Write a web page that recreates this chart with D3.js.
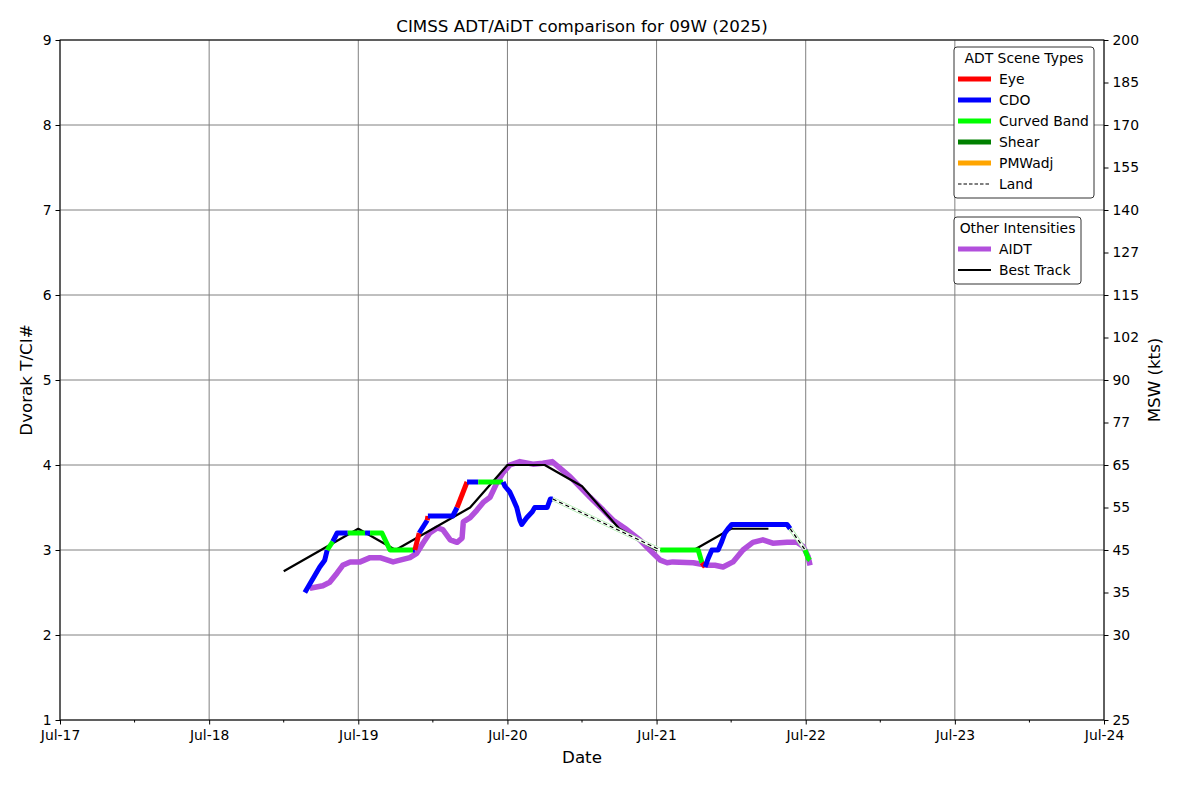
<!DOCTYPE html>
<html><head><meta charset="utf-8">
<script src="https://cdn.jsdelivr.net/npm/d3@7"></script>
<style>
body{margin:0;background:#fff;}
svg{display:block;font-family:"DejaVu Sans",sans-serif;}
</style></head>
<body><svg id="c" width="1200" height="800"></svg>
<script>
// ---------------- data ----------------
const title = "CIMSS ADT/AiDT comparison for 09W (2025)";
const xTickDates = ["2025-07-17","2025-07-18","2025-07-19","2025-07-20","2025-07-21","2025-07-22","2025-07-23","2025-07-24"];
const yTicks = [1,2,3,4,5,6,7,8,9];
const mswTicksT = [1,2,2.5,3,3.5,4,4.5,5,5.5,6,6.5,7,7.5,8,8.5,9];
const mswLabels = ["25","30","35","45","55","65","77","90","102","115","127","140","155","170","185","200"];

// ADT: time, T number, scene type of the segment starting at that point
const adtTime = [
 "2025-07-18 15:24","2025-07-18 16:12","2025-07-18 17:00","2025-07-18 17:48","2025-07-18 18:36",
 "2025-07-18 19:00","2025-07-18 19:54","2025-07-18 20:36","2025-07-18 22:18","2025-07-19 01:06",
 "2025-07-19 01:54","2025-07-19 03:48","2025-07-19 05:06","2025-07-19 08:48","2025-07-19 09:06",
 "2025-07-19 09:48","2025-07-19 11:06","2025-07-19 11:12","2025-07-19 15:12","2025-07-19 15:54",
 "2025-07-19 17:30","2025-07-19 19:18","2025-07-19 23:18","2025-07-19 23:36","2025-07-20 00:24",
 "2025-07-20 00:54","2025-07-20 01:30","2025-07-20 02:00","2025-07-20 02:18","2025-07-20 03:06",
 "2025-07-20 04:00","2025-07-20 04:24","2025-07-20 06:24","2025-07-20 06:54","2025-07-20 07:18",
 "2025-07-21 00:36","2025-07-21 06:42","2025-07-21 07:18","2025-07-21 07:48","2025-07-21 08:18",
 "2025-07-21 08:54","2025-07-21 09:54","2025-07-21 10:30","2025-07-21 11:00","2025-07-21 11:30",
 "2025-07-21 12:06","2025-07-21 21:00","2025-07-21 21:30","2025-07-21 23:54","2025-07-22 00:24",
 "2025-07-22 00:42"];
const adtT = [
 2.50,2.60,2.70,2.80,2.88,
 3.00,3.10,3.20,3.20,3.20,
 3.20,3.20,3.00,3.00,3.00,
 3.20,3.35,3.40,3.40,3.50,
 3.80,3.80,3.80,3.75,3.68,
 3.60,3.50,3.35,3.30,3.38,
 3.45,3.50,3.50,3.60,3.60,
 3.00,3.00,2.85,2.80,2.90,
 3.00,3.00,3.10,3.20,3.25,
 3.30,3.30,3.25,3.00,2.90,
 2.88];
const adtScene = [
 "CDO","CDO","CDO","CDO","CDO",
 "Curved Band","CDO","CDO","Curved Band","CDO",
 "Curved Band","Curved Band","Curved Band","CDO","Eye",
 "CDO","Eye","CDO","CDO","Eye",
 "CDO","Curved Band","CDO","CDO","CDO",
 "CDO","CDO","CDO","CDO","CDO",
 "CDO","CDO","CDO","CDO","Land",
 "Curved Band","Curved Band","Eye","CDO","CDO",
 "CDO","CDO","CDO","CDO","CDO",
 "CDO","CDO","Land","Curved Band","Curved Band",
 "Curved Band"];

// AIDT
const aidtTime = [
 "2025-07-18 16:12","2025-07-18 18:18","2025-07-18 19:24","2025-07-18 20:36","2025-07-18 21:30",
 "2025-07-18 22:42","2025-07-19 00:18","2025-07-19 01:54","2025-07-19 03:30","2025-07-19 05:36",
 "2025-07-19 08:18","2025-07-19 09:24","2025-07-19 10:24","2025-07-19 11:30","2025-07-19 12:42",
 "2025-07-19 13:36","2025-07-19 14:48","2025-07-19 15:54","2025-07-19 16:42","2025-07-19 16:54",
 "2025-07-19 18:00","2025-07-19 19:06","2025-07-19 20:06","2025-07-19 21:12","2025-07-19 22:18",
 "2025-07-19 23:18","2025-07-20 00:24","2025-07-20 02:00","2025-07-20 04:06","2025-07-20 05:42",
 "2025-07-20 07:12","2025-07-20 08:30","2025-07-20 10:06","2025-07-20 11:42","2025-07-20 13:18",
 "2025-07-20 15:24","2025-07-20 17:00","2025-07-20 19:12","2025-07-20 21:18","2025-07-20 22:54",
 "2025-07-21 00:36","2025-07-21 01:42","2025-07-21 02:36","2025-07-21 05:54","2025-07-21 08:06",
 "2025-07-21 09:24","2025-07-21 10:42","2025-07-21 12:18","2025-07-21 13:54","2025-07-21 15:30",
 "2025-07-21 17:06","2025-07-21 18:42","2025-07-21 21:00","2025-07-21 22:36","2025-07-21 23:36",
 "2025-07-22 00:24","2025-07-22 00:42"];
const aidtT = [
 2.55,2.58,2.62,2.73,2.82,
 2.86,2.86,2.91,2.91,2.86,
 2.91,2.96,3.08,3.20,3.26,
 3.24,3.12,3.09,3.14,3.33,
 3.38,3.47,3.56,3.62,3.79,
 3.91,4.00,4.04,4.01,4.02,
 4.04,3.96,3.86,3.74,3.62,
 3.47,3.35,3.24,3.12,3.00,
 2.88,2.85,2.86,2.85,2.82,
 2.82,2.80,2.86,3.00,3.09,
 3.12,3.08,3.09,3.09,3.04,
 2.92,2.82];

// Best track
const btTime = ["2025-07-18 12:00","2025-07-18 18:00","2025-07-19 00:00","2025-07-19 06:00","2025-07-19 12:00",
 "2025-07-19 18:00","2025-07-20 00:00","2025-07-20 06:00","2025-07-20 12:00","2025-07-20 18:00",
 "2025-07-21 00:00","2025-07-21 06:00","2025-07-21 12:00","2025-07-21 18:00"];
const btT = [2.75,3.0,3.25,3.0,3.25,3.5,4.0,4.0,3.75,3.25,3.0,3.0,3.25,3.25];

const sceneNames = ["Eye","CDO","Curved Band","Shear","PMWadj","Land"];
const sceneColors = ["#ff0000","#0000ff","#00ff00","#008000","#ffa500","#000000"];
const otherNames = ["AIDT","Best Track"];
const otherColors = ["#b24fdc","#000000"];

// ---------------- chart ----------------
const parse = d3.utcParse("%Y-%m-%d %H:%M");
const parseDay = d3.utcParse("%Y-%m-%d");
const svg = d3.select("#c");
const m = {l:60, r:1104, t:40, b:720};
const x = d3.scaleUtc().domain([parseDay(xTickDates[0]), parseDay(xTickDates[xTickDates.length-1])]).range([m.l, m.r]);
const y = d3.scaleLinear().domain([1,9]).range([m.b, m.t]);
const sceneColor = d3.scaleOrdinal().domain(sceneNames).range(sceneColors);
const FS = 13.9, FL = 16.7;

// grid
const g = svg.append("g");
g.selectAll(".gx").data(xTickDates.map(parseDay)).join("line")
 .attr("x1",d=>x(d)).attr("x2",d=>x(d)).attr("y1",m.t).attr("y2",m.b)
 .attr("stroke","#808080").attr("stroke-width",1);
g.selectAll(".gy").data(yTicks).join("line")
 .attr("x1",m.l).attr("x2",m.r).attr("y1",d=>y(d)).attr("y2",d=>y(d))
 .attr("stroke","#808080").attr("stroke-width",1);

svg.append("clipPath").attr("id","pc").append("rect")
 .attr("x",m.l).attr("y",m.t).attr("width",m.r-m.l).attr("height",m.b-m.t);
const plot = svg.append("g").attr("clip-path","url(#pc)");

// AIDT
const line = d3.line().x(d=>x(d[0])).y(d=>y(d[1]));
plot.append("path").datum(aidtTime.map((t,i)=>[parse(t), aidtT[i]]))
 .attr("d",line).attr("fill","none").attr("stroke",otherColors[0]).attr("stroke-width",5.5)
 .attr("stroke-linejoin","round");

// Best track
plot.append("path").datum(btTime.map((t,i)=>[parse(t), btT[i]]))
 .attr("d",line).attr("fill","none").attr("stroke",otherColors[1]).attr("stroke-width",2.2)
 .attr("stroke-linejoin","round");

// ADT colored by scene
const adt = adtTime.map((t,i)=>({t:parse(t), v:adtT[i], s:adtScene[i]}));
const runs = [];
for (let i=0;i<adt.length-1;i++){
  const s = adt[i].s;
  if (runs.length && runs[runs.length-1].s===s) runs[runs.length-1].pts.push([adt[i+1].t, adt[i+1].v]);
  else runs.push({s, pts:[[adt[i].t, adt[i].v],[adt[i+1].t, adt[i+1].v]]});
}
runs.forEach(r=>{
  if (r.s==="Land"){
    plot.append("path").datum(r.pts).attr("d",line).attr("fill","none")
      .attr("stroke","#a6eaa6").attr("stroke-width",4);
    plot.append("path").datum(r.pts).attr("d",line).attr("fill","none")
      .attr("stroke","#ffffff").attr("stroke-width",2.6);
    plot.append("path").datum(r.pts).attr("d",line).attr("fill","none")
      .attr("stroke","#000").attr("stroke-width",1.3).attr("stroke-dasharray","4,3");
  } else {
    plot.append("path").datum(r.pts).attr("d",line).attr("fill","none")
      .attr("stroke",sceneColor(r.s)).attr("stroke-width",5).attr("stroke-linejoin","round");
  }
});

// frame
svg.append("rect").attr("x",m.l).attr("y",m.t).attr("width",m.r-m.l).attr("height",m.b-m.t)
 .attr("fill","none").attr("stroke","#000").attr("stroke-width",1);

// axes
const fmt = d3.utcFormat("%b-%d");
const xAxis = svg.append("g").attr("transform",`translate(0,${m.b})`)
 .call(d3.axisBottom(x).tickValues(xTickDates.map(parseDay)).tickFormat(fmt).tickSize(4.5).tickPadding(5.5));
const minor = d3.utcHour.every(12).range(parseDay(xTickDates[0]), parseDay(xTickDates[xTickDates.length-1]))
 .filter(d=>d.getUTCHours()===12);
svg.append("g").selectAll("line").data(minor).join("line")
 .attr("x1",d=>x(d)).attr("x2",d=>x(d)).attr("y1",m.b).attr("y2",m.b+2.5).attr("stroke","#000");
const yAxis = svg.append("g").attr("transform",`translate(${m.l},0)`)
 .call(d3.axisLeft(y).tickValues(yTicks).tickFormat(d3.format("d")).tickSize(4.5).tickPadding(4));
const y2Axis = svg.append("g").attr("transform",`translate(${m.r},0)`)
 .call(d3.axisRight(y).tickValues(mswTicksT).tickFormat((d,i)=>mswLabels[i]).tickSize(4.5).tickPadding(4));
[xAxis,yAxis,y2Axis].forEach(a=>{
  a.select(".domain").remove();
  a.selectAll("text").attr("font-size",FS).attr("font-family","DejaVu Sans").attr("fill","#000");
  a.selectAll(".tick line").attr("stroke","#000");
});

// titles
svg.append("text").attr("x",(m.l+m.r)/2).attr("y",32).attr("text-anchor","middle")
 .attr("font-size",FL).text(title);
svg.append("text").attr("x",(m.l+m.r)/2).attr("y",763).attr("text-anchor","middle")
 .attr("font-size",FL).text("Date");
svg.append("text").attr("transform",`translate(32,${(m.t+m.b)/2}) rotate(-90)`).attr("text-anchor","middle")
 .attr("font-size",FL).text("Dvorak T/CI#");
svg.append("text").attr("transform",`translate(1160,${(m.t+m.b)/2}) rotate(-90)`).attr("text-anchor","middle")
 .attr("font-size",FL).text("MSW (kts)");

// legends
function legend(x0,y0,w,h,ttl,names,colors,dashIdx){
  const lg = svg.append("g");
  lg.append("rect").attr("x",x0).attr("y",y0).attr("width",w).attr("height",h).attr("rx",3)
    .attr("fill","#fff").attr("stroke","#333").attr("stroke-width",1);
  lg.append("text").attr("x",x0+w/2).attr("y",y0+16).attr("text-anchor","middle").attr("font-size",FS).text(ttl);
  names.forEach((n,i)=>{
    const yy = y0+32+i*21;
    const ln = lg.append("line").attr("x1",x0+4).attr("x2",x0+37).attr("y1",yy).attr("y2",yy)
      .attr("stroke",colors[i]);
    if (i===dashIdx) ln.attr("stroke-width",1.2).attr("stroke-dasharray","3.5,2");
    else ln.attr("stroke-width", n==="Best Track" ? 2.2 : 5);
    lg.append("text").attr("x",x0+45).attr("y",yy+5).attr("font-size",FS).text(n);
  });
}
legend(954,47,140,151,"ADT Scene Types",sceneNames,sceneColors,5);
legend(954,217,127,67,"Other Intensities",otherNames,otherColors,-1);
</script></body></html>
